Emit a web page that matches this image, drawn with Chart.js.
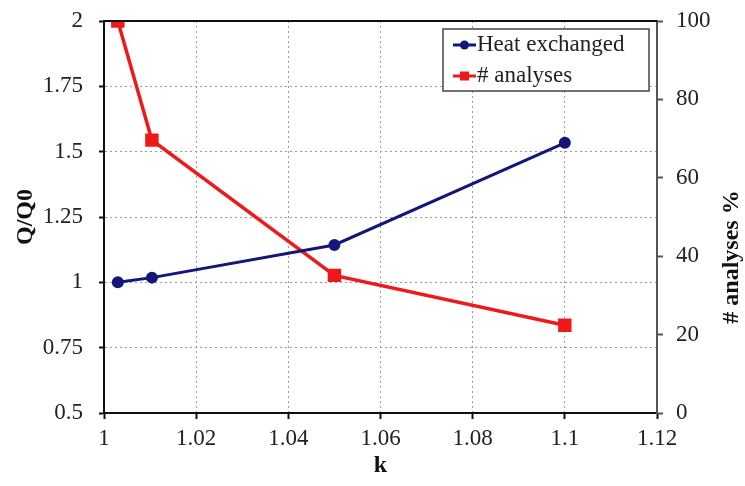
<!DOCTYPE html>
<html>
<head>
<meta charset="utf-8">
<script src="https://cdn.jsdelivr.net/npm/chart.js@4"></script>
<style>
    html, body { margin: 0; padding: 0; background: #fff; }
    #wrap { width: 745px; height: 486px; }
</style>
</head>
<body>
<div id="wrap"><canvas id="chart" width="745" height="486"></canvas></div>
<script>
// Data
const kValues = [1.003, 1.0104, 1.05, 1.1];
const heatRatio = [1.0, 1.018, 1.143, 1.534];
const analysesPct = [100, 69.6, 35.1, 22.4];

const seriesLabels = ['Heat exchanged', '# analyses'];
const seriesColors = ['#14167a', '#f01818'];

const xTicks = { min: 1, max: 1.12, step: 0.02 };
const leftTicks = { min: 0.5, max: 2, step: 0.25 };
const rightTicks = { min: 0, max: 100, step: 20 };

const SERIF = '"Liberation Serif", "DejaVu Serif", serif';

// Plot frame (top border) + custom legend + right title
const framePlugin = {
    id: 'frame',
    afterDraw(chart) {
        const ctx = chart.ctx;
        const a = chart.chartArea;
        ctx.save();

        // top border
        ctx.strokeStyle = '#111';
        ctx.lineWidth = 2;
        ctx.beginPath();
        ctx.moveTo(a.left, a.top);
        ctx.lineTo(a.right, a.top);
        ctx.stroke();

        // legend box
        const bx = 443, by = 29, bw = 206, bh = 62;
        ctx.fillStyle = '#fff';
        ctx.fillRect(bx, by, bw, bh);
        ctx.strokeStyle = '#444';
        ctx.lineWidth = 1.5;
        ctx.strokeRect(bx, by, bw, bh);

        const rows = [45, 76];
        chart.data.datasets.forEach((ds, i) => {
            const y = rows[i];
            ctx.strokeStyle = ds.borderColor;
            ctx.lineWidth = 3;
            ctx.beginPath();
            ctx.moveTo(453, y);
            ctx.lineTo(476, y);
            ctx.stroke();
            ctx.fillStyle = ds.borderColor;
            if (ds.pointStyle === 'rect') {
                ctx.fillRect(464.5 - 4.5, y - 4.5, 9, 9);
            } else {
                ctx.beginPath();
                ctx.arc(464.5, y, 4.5, 0, Math.PI * 2);
                ctx.fill();
            }
            ctx.fillStyle = '#222';
            ctx.font = '23px ' + SERIF;
            ctx.textBaseline = 'middle';
            ctx.textAlign = 'left';
            ctx.fillText(ds.label, 477, y);
        });

        // right axis title, reading bottom to top
        ctx.translate(732, 257);
        ctx.rotate(-Math.PI / 2);
        ctx.font = 'bold 24px ' + SERIF;
        ctx.fillStyle = '#111';
        ctx.textAlign = 'center';
        ctx.textBaseline = 'middle';
        ctx.fillText('# analyses %', 0, 0);
        ctx.restore();
    }
};

const tickFont = { family: SERIF, size: 23 };
const titleFont = { family: SERIF, size: 24, weight: 'bold' };

// fixed axis sizes so the plot area sits where it does in the picture
function fitVertical(width) {
    return s => {
        s.width = width;
        s.paddingTop = 0;
        s.paddingBottom = 0;
    };
}

new Chart(document.getElementById('chart'), {
    type: 'line',
    data: {
        datasets: [
            {
                label: seriesLabels[0],
                data: kValues.map((k, i) => ({ x: k, y: heatRatio[i] })),
                borderColor: seriesColors[0],
                backgroundColor: seriesColors[0],
                borderWidth: 3,
                pointStyle: 'circle',
                pointRadius: 4.5,
                yAxisID: 'y'
            },
            {
                label: seriesLabels[1],
                data: kValues.map((k, i) => ({ x: k, y: analysesPct[i] })),
                borderColor: seriesColors[1],
                backgroundColor: seriesColors[1],
                borderWidth: 3.5,
                pointStyle: 'rect',
                pointRadius: 7,
                yAxisID: 'y1'
            }
        ]
    },
    options: {
        responsive: false,
        animation: false,
        layout: { padding: { top: 21, left: 0, right: 0, bottom: 0 } },
        plugins: {
            legend: { display: false },
            tooltip: { enabled: false }
        },
        scales: {
            x: {
                type: 'linear',
                min: xTicks.min,
                max: xTicks.max,
                afterFit: s => { s.height = 73; },
                ticks: {
                    stepSize: xTicks.step,
                    font: tickFont,
                    color: '#222',
                    padding: 6,
                    maxRotation: 0,
                    callback: v => +v.toFixed(2)
                },
                grid: {
                    color: '#9a9a9a',
                    lineWidth: 1,
                    tickLength: 6,
                    tickColor: '#111',
                    tickWidth: 2
                },
                border: { color: '#111', width: 2, dash: [2, 3] },
                title: {
                    display: true,
                    text: 'k',
                    font: titleFont,
                    color: '#111',
                    padding: { top: 0, bottom: 6 }
                }
            },
            y: {
                type: 'linear',
                position: 'left',
                min: leftTicks.min,
                max: leftTicks.max,
                afterFit: fitVertical(104),
                ticks: {
                    stepSize: leftTicks.step,
                    font: tickFont,
                    color: '#222',
                    padding: 16,
                    callback: v => +v.toFixed(2)
                },
                grid: {
                    color: '#9a9a9a',
                    lineWidth: 1,
                    tickLength: 5,
                    tickColor: '#111',
                    tickWidth: 2
                },
                border: { color: '#111', width: 2, dash: [2, 3] },
                title: {
                    display: true,
                    text: 'Q/Q0',
                    font: titleFont,
                    color: '#111',
                    padding: { top: 11, bottom: 0 }
                }
            },
            y1: {
                type: 'linear',
                position: 'right',
                min: rightTicks.min,
                max: rightTicks.max,
                afterFit: fitVertical(88),
                ticks: {
                    stepSize: rightTicks.step,
                    font: tickFont,
                    color: '#222',
                    padding: 13
                },
                grid: {
                    drawOnChartArea: false,
                    tickLength: 6,
                    tickColor: '#555',
                    tickWidth: 2
                },
                border: { color: '#555', width: 2 }
            }
        }
    },
    plugins: [framePlugin]
});
</script>
</body>
</html>
